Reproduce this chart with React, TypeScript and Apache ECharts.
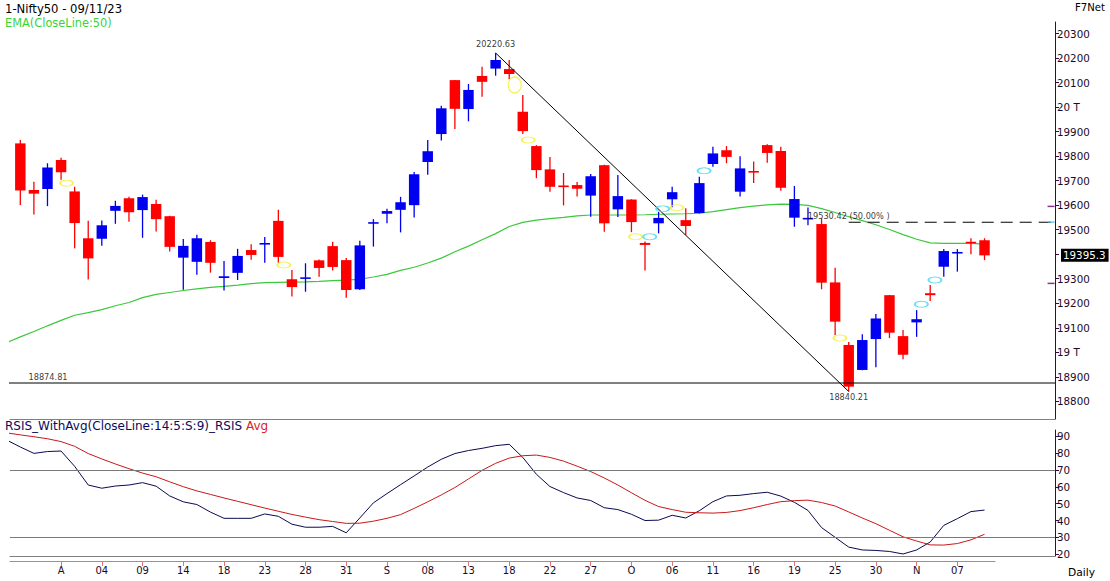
import React, { useEffect, useRef } from "react";
import * as echarts from "echarts";

// ---------- data ----------
const dates = [
  "27/07", "28/07", "31/07", "01/08", "02/08", "03/08", "04/08", "07/08", "08/08", "09/08",
  "10/08", "11/08", "14/08", "16/08", "17/08", "18/08", "21/08", "22/08", "23/08", "24/08",
  "25/08", "28/08", "29/08", "30/08", "31/08", "01/09", "04/09", "05/09", "06/09", "07/09",
  "08/09", "11/09", "12/09", "13/09", "14/09", "15/09", "18/09", "20/09", "21/09", "22/09",
  "25/09", "26/09", "27/09", "28/09", "29/09", "03/10", "04/10", "05/10", "06/10", "09/10",
  "10/10", "11/10", "12/10", "13/10", "16/10", "17/10", "18/10", "19/10", "20/10", "23/10",
  "25/10", "26/10", "27/10", "30/10", "31/10", "01/11", "02/11", "03/11", "06/11", "07/11",
  "08/11", "09/11",
];
const open = [
  19852, 19662, 19666, 19784, 19656, 19465, 19463, 19577, 19628, 19580,
  19605, 19555, 19386, 19369, 19450, 19303, 19324, 19417, 19440, 19536,
  19298, 19300, 19375, 19433, 19376, 19257, 19526, 19565, 19581, 19600,
  19776, 19890, 20110, 19992, 20127, 20157, 20155, 19981, 19841, 19746,
  19679, 19682, 19639, 19763, 19583, 19623, 19446, 19526, 19624, 19539,
  19568, 19768, 19824, 19655, 19738, 19845, 19821, 19549, 19543, 19523,
  19285, 19030, 18928, 19054, 19233, 19066, 19122, 19241, 19349, 19404,
  19450, 19457,
];
const high = [
  19866, 19696, 19771, 19793, 19675, 19536, 19537, 19618, 19634, 19643,
  19622, 19557, 19462, 19479, 19457, 19372, 19422, 19441, 19470, 19581,
  19336, 19363, 19378, 19451, 19385, 19455, 19543, 19585, 19634, 19735,
  19866, 20005, 20110, 20094, 20165, 20220.63, 20192, 20049, 19845, 19796,
  19731, 19695, 19727, 19765, 19723, 19624, 19452, 19572, 19675, 19587,
  19716, 19838, 19841, 19800, 19778, 19848, 19838, 19678, 19591, 19546,
  19345, 19042, 19074, 19156, 19234, 19091, 19172, 19274, 19421, 19421,
  19465, 19465,
];
const low = [
  19601, 19562, 19596, 19704, 19424, 19297, 19435, 19524, 19532, 19467,
  19493, 19411, 19255, 19316, 19325, 19252, 19295, 19377, 19365, 19365,
  19228, 19247, 19308, 19334, 19222, 19254, 19431, 19526, 19489, 19550,
  19724, 19864, 19911, 19942, 20042, 20128, 20114, 19890, 19710, 19655,
  19599, 19635, 19553, 19492, 19552, 19490, 19334, 19485, 19592, 19478,
  19566, 19757, 19771, 19635, 19690, 19773, 19659, 19512, 19518, 19257,
  19071, 18840.21, 18927, 18939, 19058, 18972, 19063, 19209, 19308, 19329,
  19400, 19376,
];
const close = [
  19660, 19647, 19754, 19734, 19527, 19383, 19518, 19597, 19571, 19633,
  19543, 19430, 19434, 19465, 19365, 19310, 19393, 19397, 19445, 19389,
  19266, 19305, 19344, 19348, 19254, 19436, 19529, 19576, 19612, 19726,
  19820, 19995, 19993, 20070, 20103, 20192, 20135, 19902, 19743, 19675,
  19675, 19667, 19718, 19526, 19637, 19531, 19438, 19548, 19653, 19515,
  19690, 19811, 19797, 19750, 19734, 19813, 19671, 19625, 19547, 19284,
  19125, 18860, 19050, 19138, 19080, 18990, 19135, 19233, 19413, 19408,
  19445, 19395.3,
];
// EMA(50) values, starting one bar before the first candle (26/07)
const ema50 = [
  19040, 19063, 19085, 19108, 19130, 19151, 19162, 19174, 19190, 19203, 19223,
  19236, 19244, 19252, 19259, 19265, 19269, 19274, 19280, 19284, 19285,
  19286, 19287, 19289, 19292, 19294, 19298, 19307, 19318, 19334, 19347,
  19364, 19384, 19410, 19433, 19459, 19484, 19513, 19530, 19539, 19545,
  19550, 19556, 19560, 19560, 19560, 19560, 19561, 19563, 19564, 19565,
  19567, 19574, 19582, 19590, 19596, 19601, 19604, 19603, 19599, 19586,
  19570, 19553, 19537, 19520, 19501, 19480, 19461, 19446, 19444, 19444,
  19444, 19441,
];
// RSIS and its average, starting one bar before the first candle (26/07)
const rsis = [
  87.8, 83.7, 79.9, 81.0, 81.3, 72.2, 61.1, 59.2, 60.5, 61.1, 62.5,
  60.4, 54.6, 51.1, 49.5, 45.0, 41.3, 41.3, 41.3, 43.9, 42.5,
  37.8, 36.0, 36.0, 36.5, 32.7, 41.5, 50.5, 56.0, 61.3, 66.5,
  71.8, 76.4, 79.8, 81.6, 82.9, 84.5, 85.3, 77.5, 67.5, 60.2,
  56.6, 53.4, 51.9, 47.6, 46.5, 43.7, 40.0, 40.2, 43.1, 41.5,
  45.8, 51.2, 54.6, 55.0, 56.0, 56.8, 54.5, 50.8, 46.0, 35.8,
  30.0, 24.2, 22.5, 22.2, 21.6, 20.1, 22.5, 27.2, 37.1, 41.1,
  45.3, 46.2,
];
const rsisAvg = [
  92.1, 90.9, 89.8, 88.6, 86.9, 84.1, 79.8, 76.6, 73.6, 70.8, 68.2,
  66.0, 63.0, 60.1, 57.6, 55.5, 53.4, 51.4, 49.4, 47.4, 45.5,
  43.6, 42.0, 40.5, 39.4, 38.3, 38.4, 39.6, 41.3, 43.5, 47.2,
  51.1, 55.2, 59.6, 64.7, 69.8, 74.0, 77.1, 78.5, 78.9, 77.5,
  75.3, 72.3, 69.1, 65.3, 61.1, 56.5, 52.0, 48.3, 46.5, 44.9,
  44.6, 44.4, 44.8, 45.9, 47.6, 49.5, 51.2, 51.8, 52.1, 50.7,
  48.6, 45.1, 41.5, 38.1, 34.2, 30.3, 27.8, 25.5, 25.4, 26.3,
  28.5, 31.8,
];
// x-axis ticks (bar index) and their labels
const tickIndex = [3, 6, 9, 12, 15, 18, 21, 24, 27, 30, 33, 36, 39, 42, 45, 48, 51, 54, 57, 60, 63, 66, 69];
const tickLabels = ["A", "04", "09", "14", "18", "23", "28", "31", "S", "08", "13", "18", "22", "27", "O", "06", "11", "16", "19", "25", "30", "N", "07"];
const priceTicks = [18800, 18900, 19000, 19100, 19200, 19300, 19400, 19500, 19600, 19700, 19800, 19900, 20000, 20100, 20200, 20300];
const priceLabels = [18800, 18900, 19000, 19100, 19200, 19300, 19500, 19600, 19700, 19800, 19900, 20000, 20100, 20200, 20300];
const rsiTicks = [20, 30, 40, 50, 60, 70, 80, 90];
const rsiLevels = [70, 30];
// signal ellipses [bar position, price]
const yellowMarks = [[3.4, 19690], [19.4, 19356], [37.4, 19866], [45.3, 19471], [48.35, 19590], [60.35, 19058]];
const yellowBig = [[36.4, 20090]];
const cyanMarks = [[46.35, 19471], [47.3, 19585], [50.35, 19740], [66.35, 19196], [67.35, 19295]];
// swing points / levels
const swingHigh = { idx: 35, value: 20220.63 };
const swingLow = { idx: 61, value: 18840.21 };
const supportLevel = 18874.81;
const retrace50 = 19530.42;
const lastClose = 19395.3;
const axisMarksPurple = [19595, 19281];
const axisMarksCyan = [19531];

// ---------- styles ----------
const FONT = "DejaVu Sans";
const RED = "#ff0000";
const BLUE = "#0000f0";
const AX = "#3a0a3a";
const LBL = "#1a0a2a";
const X_MIN = -0.76;
const X_MAX = 76.19;
const X3_MAX = 71.77;
const X_PAGE_LEFT = -1.5;

export default function App() {
  const ref = useRef<HTMLDivElement>(null);
  useEffect(() => {
    if (!ref.current) return;
    const chart = echarts.init(ref.current, null, { renderer: "svg" });
    const candles = dates.map((_, i) => [i, open[i], close[i], low[i], high[i]]);
    const emaData = ema50.map((v, k) => [k - 1, v]);
    const rsiData = rsis.map((v, k) => [k - 1, v]);
    const avgData = rsisAvg.map((v, k) => [k - 1, v]);

    const option: any = {
      animation: false,
      backgroundColor: "#ffffff",
      textStyle: { fontFamily: FONT },
      title: [
        { text: "1-Nifty50 - 09/11/23", left: 5, top: 2.5, padding: 0, textStyle: { fontFamily: FONT, fontSize: 11.6, fontWeight: "normal", color: "#000" } },
        { text: "EMA(CloseLine:50)", left: 5, top: 17, padding: 0, textStyle: { fontFamily: FONT, fontSize: 11.4, fontWeight: "normal", color: "#38d438" } },
        { text: "F7Net", right: 5, top: 2.5, padding: 0, textStyle: { fontFamily: FONT, fontSize: 10.1, fontWeight: "normal", color: "#000" } },
        {
          text: "{a|RSIS_WithAvg(CloseLine:14:5:S:9)_RSIS} {b|Avg}", left: 5, top: 420, padding: 0,
          textStyle: {
            fontFamily: FONT, fontSize: 12, fontWeight: "normal",
            rich: { a: { fontFamily: FONT, fontSize: 12, color: "#0a0a60" }, b: { fontFamily: FONT, fontSize: 12, color: "#e02020" } },
          },
        },
        { text: "Daily", right: 15, top: 566.5, padding: 0, textStyle: { fontFamily: FONT, fontSize: 10.7, fontWeight: "normal", color: "#000" } },
      ],
      grid: [
        { left: 10, top: 22, width: 1045, height: 397 },
        { left: 10, top: 430, width: 1045, height: 126 },
        { left: 10, top: 555, width: 985, height: 6 },
      ],
      xAxis: [
        { type: "value", gridIndex: 0, min: X_MIN, max: X_MAX, axisLine: { onZero: false, lineStyle: { color: "#808080", width: 1 } }, axisTick: { show: false }, axisLabel: { show: false }, splitLine: { show: false } },
        { type: "value", gridIndex: 1, min: X_MIN, max: X_MAX, axisLine: { onZero: false, lineStyle: { color: "#808080", width: 1 } }, axisTick: { show: false }, axisLabel: { show: false }, splitLine: { show: false } },
        {
          type: "value", gridIndex: 2, min: X_MIN, max: X3_MAX,
          axisLine: { onZero: false, lineStyle: { color: "#e87070", width: 1 } },
          axisTick: { show: true, customValues: tickIndex, length: 5, lineStyle: { color: "#e87070" } },
          axisLabel: {
            show: true, customValues: tickIndex, margin: 4, color: LBL, fontFamily: FONT, fontSize: 10,
            formatter: (v: number) => { const k = tickIndex.indexOf(Math.round(v)); return k >= 0 ? tickLabels[k] : ""; },
          },
          splitLine: { show: false },
        },
      ],
      yAxis: [
        {
          type: "value", gridIndex: 0, position: "right", min: 18728, max: 20347, scale: true,
          axisLine: { show: true, onZero: false, lineStyle: { color: AX, width: 1 } },
          axisTick: { show: true, customValues: priceTicks, length: 4, lineStyle: { color: AX } },
          axisLabel: {
            show: true, customValues: priceLabels, margin: 2, color: LBL, fontFamily: FONT, fontSize: 10.3,
            formatter: (v: number) => (v % 1000 === 0 ? `${v / 1000} T` : `${v}`),
          },
          splitLine: { show: false },
        },
        {
          type: "value", gridIndex: 1, position: "right", min: 18.9, max: 93.8, scale: true,
          axisLine: { show: true, onZero: false, lineStyle: { color: AX, width: 1 } },
          axisTick: { show: true, customValues: rsiTicks, length: 4, lineStyle: { color: AX } },
          axisLabel: { show: true, customValues: rsiTicks, margin: 2, color: LBL, fontFamily: FONT, fontSize: 10.3 },
          splitLine: { show: false },
        },
        { type: "value", gridIndex: 2, show: false, min: 0, max: 1, axisLine: { onZero: false } },
      ],
      series: [
        {
          name: "EMA50", type: "line", xAxisIndex: 0, yAxisIndex: 0, data: emaData, showSymbol: false, symbol: "none",
          lineStyle: { color: "#3cc83c", width: 1.2 }, clip: true, z: 3,
          markLine: {
            silent: true, symbol: "none", animation: false,
            data: [
              {
                yAxis: lastClose, lineStyle: { color: "rgba(0,0,0,0)", width: 0 },
                label: {
                  show: true, position: "end", distance: 6, formatter: "19395.3", color: "#fff", backgroundColor: "#000",
                  fontFamily: FONT, fontSize: 10.3, padding: [2, 3, 1, 2],
                },
              },
            ],
          },
        },
        {
          name: "Support", type: "line", xAxisIndex: 0, yAxisIndex: 0, symbol: "none", z: 5, clip: false,
          data: [[X_PAGE_LEFT, supportLevel], [X_MAX, supportLevel]],
          lineStyle: { color: "#000", width: 1 },
        },
        {
          name: "Candles", type: "custom", xAxisIndex: 0, yAxisIndex: 0, data: candles, clip: true, z: 4,
          encode: { x: 0, y: [1, 2, 3, 4] },
          renderItem: (params: any, api: any) => {
            const i = api.value(0), o = api.value(1), c = api.value(2), l = api.value(3), h = api.value(4);
            const po = api.coord([i, o]);
            const pc = api.coord([i, c]);
            const pl = api.coord([i, l]);
            const ph = api.coord([i, h]);
            const w = api.size([1, 0])[0] * 0.77;
            const color = c >= o ? BLUE : RED;
            const top = Math.min(po[1], pc[1]);
            let hgt = Math.abs(po[1] - pc[1]);
            let y0 = top;
            if (hgt < 1.6) { y0 = (po[1] + pc[1]) / 2 - 0.8; hgt = 1.6; }
            return {
              type: "group",
              children: [
                { type: "line", shape: { x1: ph[0], y1: ph[1], x2: pl[0], y2: pl[1] }, style: { stroke: color, lineWidth: 1.3 } },
                { type: "rect", shape: { x: po[0] - w / 2, y: y0, width: w, height: hgt }, style: { fill: color } },
              ],
            };
          },
        },
        {
          name: "Trend", type: "line", xAxisIndex: 0, yAxisIndex: 0, symbol: "none", z: 5,
          data: [[swingHigh.idx, swingHigh.value], [swingLow.idx, swingLow.value]],
          lineStyle: { color: "#000", width: 1 },
        },
        {
          name: "Retrace50", type: "line", xAxisIndex: 0, yAxisIndex: 0, symbol: "none", z: 5, clip: true,
          data: [[swingLow.idx, retrace50], [X_MAX, retrace50]],
          lineStyle: { color: "#000", width: 1, type: [12, 7] },
        },
        {
          name: "YellowSig", type: "scatter", xAxisIndex: 0, yAxisIndex: 0, z: 6,
          data: yellowMarks, symbol: "circle", symbolSize: [13, 6],
          itemStyle: { color: "rgba(0,0,0,0)", borderColor: "#f0f030", borderWidth: 1.3 },
        },
        {
          name: "YellowBig", type: "scatter", xAxisIndex: 0, yAxisIndex: 0, z: 6,
          data: yellowBig, symbol: "circle", symbolSize: [13, 16],
          itemStyle: { color: "rgba(0,0,0,0)", borderColor: "#f0f030", borderWidth: 1.3 },
        },
        {
          name: "CyanSig", type: "scatter", xAxisIndex: 0, yAxisIndex: 0, z: 6,
          data: cyanMarks, symbol: "circle", symbolSize: [13, 6],
          itemStyle: { color: "rgba(0,0,0,0)", borderColor: "#40d8e8", borderWidth: 1.3 },
        },
        {
          name: "AxisMarks", type: "scatter", xAxisIndex: 0, yAxisIndex: 0, z: 6, symbol: "rect", symbolSize: [7, 1.5],
          data: [
            ...axisMarksPurple.map((v) => ({ value: [75.9, v], itemStyle: { color: "#700070" } })),
            ...axisMarksCyan.map((v) => ({ value: [75.9, v], itemStyle: { color: "#40b8e8" } })),
          ],
        },
        {
          name: "Annotations", type: "scatter", xAxisIndex: 0, yAxisIndex: 0, z: 7, symbolSize: 1,
          itemStyle: { color: "rgba(0,0,0,0)" },
          label: { show: true, color: "#000", fontFamily: FONT, fontSize: 8.2, formatter: (p: any) => p.name },
          data: [
            { name: "20220.63", value: [swingHigh.idx, swingHigh.value], label: { position: "top", distance: 4 } },
            { name: "18840.21", value: [swingLow.idx, swingLow.value], label: { position: "bottom", distance: 1 } },
            { name: "18874.81", value: [2.04, supportLevel], label: { position: "top", distance: 2 } },
            { name: "19530.42 (50.00% )", value: [swingLow.idx, retrace50], label: { position: "top", distance: 2 } },
          ],
        },
        {
          name: "RSIS", type: "line", xAxisIndex: 1, yAxisIndex: 1, data: rsiData, symbol: "none", clip: true, z: 4,
          lineStyle: { color: "#0a0a50", width: 1 },
          markLine: {
            silent: true, symbol: "none",
            data: rsiLevels.map((v) => ({ yAxis: v })),
            lineStyle: { color: "#7a7a7a", width: 1, type: "solid" }, label: { show: false },
          },
        },
        {
          name: "Avg", type: "line", xAxisIndex: 1, yAxisIndex: 1, data: avgData, symbol: "none", clip: true, z: 4,
          lineStyle: { color: "#c81818", width: 1 },
        },
      ],
    };
    chart.setOption(option);
    return () => chart.dispose();
  }, []);
  return (
    <div
      ref={ref}
      style={{ position: "fixed", left: 0, top: 0, width: 1110, height: 581, background: "#fff" }}
    />
  );
}
